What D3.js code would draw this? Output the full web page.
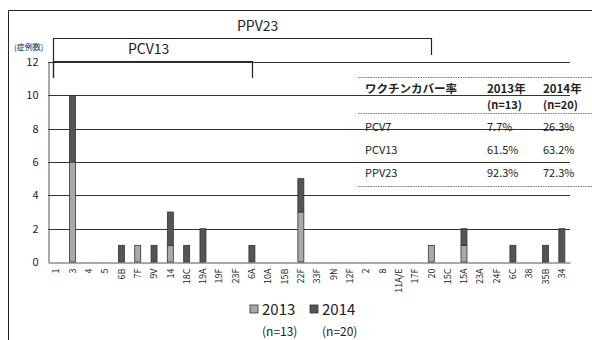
<!DOCTYPE html>
<html>
<head>
<meta charset="utf-8">
<script src="https://cdn.jsdelivr.net/npm/d3@7"></script>
<style>
  html, body { margin: 0; padding: 0; background: #fff; }
  svg { display: block; font-family: "Noto Sans CJK JP", "Noto Sans", sans-serif; }
</style>
</head>
<body>
<svg id="chart" width="592" height="340"></svg>
<script>
// Serotypes on the x axis
const serotypes = ["1","3","4","5","6B","7F","9V","14","18C","19A","19F","23F","6A","10A","15B",
  "22F","33F","9N","12F","2","8","11A/E","17F","20","15C","15A","23A","24F","6C","38","35B","34"];
// Case counts per serotype
const cases2013 = [0,6,0,0,0,1,0,1,0,0,0,0,0,0,0,3,0,0,0,0,0,0,0,1,0,1,0,0,0,0,0,0];
const cases2014 = [0,4,0,0,1,0,1,2,1,2,0,0,1,0,0,2,0,0,0,0,0,0,0,0,0,1,0,0,1,0,1,2];
const yTicks = [0, 2, 4, 6, 8, 10, 12];
const seriesNames = ["2013", "2014"];
const seriesN = ["(n=13)", "(n=20)"];

// Vaccine coverage table
const vaccines = ["PCV7", "PCV13", "PPV23"];
const coverage2013 = ["7.7%", "61.5%", "92.3%"];
const coverage2014 = ["26.3%", "63.2%", "72.3%"];

// Serotype ranges covered by each vaccine
const vaccineRanges = [
  { name: "PPV23", from: "1", to: "20" },
  { name: "PCV13", from: "1", to: "6A" }
];

const colors = { "2013": "#a9a9a9", "2014": "#555555" };
const ink = "#222";

const svg = d3.select("#chart");

// outer frame
svg.append("path").attr("d", "M8.5,340 V10.5 H592")
  .attr("fill", "none").attr("stroke", ink).attr("stroke-width", 1);

const plotLeft = 48, plotRight = 570, plotTop = 62, plotBottom = 262;
const x = d3.scaleBand().domain(serotypes).range([plotLeft, plotRight]);
const y = d3.scaleLinear().domain([0, 12]).range([plotBottom, plotTop]);

// horizontal grid
svg.append("g").selectAll("line").data(yTicks.filter(d => d > 0)).join("line")
  .attr("x1", plotLeft).attr("x2", plotRight)
  .attr("y1", d => Math.round(y(d)) + 0.5).attr("y2", d => Math.round(y(d)) + 0.5)
  .attr("stroke", "#333").attr("stroke-width", 1);

// y axis
const yAxis = svg.append("g").attr("transform", `translate(${plotLeft + 0.5},0)`)
  .call(d3.axisLeft(y).tickValues(yTicks).tickSize(0).tickPadding(10));
yAxis.select(".domain").attr("stroke", "#555");
yAxis.selectAll("text").attr("font-size", 11).attr("fill", ink)
  .attr("font-family", "'Noto Sans CJK JP', sans-serif");

// x axis
const xAxis = svg.append("g").attr("transform", `translate(0,${Math.round(y(0)) + 0.5})`)
  .call(d3.axisBottom(x).tickSize(0).tickPadding(6));
xAxis.select(".domain").attr("stroke", "#555");
xAxis.selectAll("text")
  .attr("font-size", 9).attr("fill", ink)
  .attr("font-family", "'Noto Sans CJK JP', sans-serif")
  .attr("text-anchor", "end")
  .attr("dy", "0.35em")
  .attr("transform", "rotate(-90)")
  .attr("x", -6).attr("y", 0);

// stacked bars: 2013 on the bottom, 2014 on top
const rows = serotypes.map((s, i) => ({ s, "2013": cases2013[i], "2014": cases2014[i] }));
const stack = d3.stack().keys(seriesNames)(rows);
const barW = 6;
svg.append("g").selectAll("g").data(stack).join("g")
  .attr("fill", d => colors[d.key])
  .selectAll("rect").data(d => d.filter(p => p[1] > p[0])).join("rect")
  .attr("x", d => x(d.data.s) + x.bandwidth() / 2 - barW / 2)
  .attr("width", barW)
  .attr("y", d => y(d[1]))
  .attr("height", d => y(d[0]) - y(d[1]))
  .attr("stroke", "#333").attr("stroke-width", 0.8);

// unit label
svg.append("text").attr("x", 14).attr("y", 50).attr("font-size", 8).attr("fill", ink)
  .text("(症例数)");

// vaccine brackets
const cx = s => x(s) + x.bandwidth() / 2;
const bracketY = { PPV23: 38.5, PCV13: 61.5 };
const bracketEnd = { PPV23: 55, PCV13: 78 };
const bracketLabelX = { PPV23: 237, PCV13: 128 };
const bracketLabelY = { PPV23: 31, PCV13: 54 };
vaccineRanges.forEach(r => {
  const x0 = Math.round(cx(r.from)) - 2.5, x1 = Math.round(cx(r.to)) + 0.5;
  svg.append("path")
    .attr("d", `M${x0},78 V${bracketY[r.name]} H${x1} V${bracketEnd[r.name]}`)
    .attr("fill", "none").attr("stroke", ink).attr("stroke-width", 1.2);
  svg.append("text").attr("x", bracketLabelX[r.name]).attr("y", bracketLabelY[r.name])
    .attr("font-size", 14).attr("fill", ink).text(r.name);
});

// coverage table
const tbl = svg.append("g").attr("fill", ink);
const colX = [365, 487, 543];
[77.5, 113.5, 186.5].forEach(yy => {
  tbl.append("line").attr("x1", 358).attr("x2", 592).attr("y1", yy).attr("y2", yy)
    .attr("stroke", "#555").attr("stroke-width", 0.8).attr("stroke-dasharray", "1.5,1");
});
tbl.append("text").attr("x", colX[0]).attr("y", 93).attr("font-size", 11.5)
  .attr("font-weight", "bold").text("ワクチンカバー率");
seriesNames.forEach((n, i) => {
  tbl.append("text").attr("x", colX[i + 1]).attr("y", 93).attr("font-size", 11.5)
    .attr("font-weight", "bold").text(n + "年");
  tbl.append("text").attr("x", colX[i + 1]).attr("y", 109).attr("font-size", 11)
    .attr("font-weight", "bold").text(seriesN[i]);
});
vaccines.forEach((v, i) => {
  const yy = 131 + i * 23;
  tbl.append("text").attr("x", colX[0]).attr("y", yy).attr("font-size", 11).text(v);
  tbl.append("text").attr("x", colX[1]).attr("y", yy).attr("font-size", 11).text(coverage2013[i]);
  tbl.append("text").attr("x", colX[2]).attr("y", yy).attr("font-size", 11).text(coverage2014[i]);
});

// legend
const legend = svg.append("g");
const legX = [250, 310];
seriesNames.forEach((n, i) => {
  legend.append("rect").attr("x", legX[i]).attr("y", 305).attr("width", 8).attr("height", 8)
    .attr("fill", colors[n]).attr("stroke", "#333").attr("stroke-width", 0.8);
  legend.append("text").attr("x", legX[i] + 12).attr("y", 315).attr("font-size", 15)
    .attr("fill", ink).text(n);
  legend.append("text").attr("x", legX[i] + 12).attr("y", 336).attr("font-size", 12)
    .attr("fill", ink).text(seriesN[i]);
});
</script>
</body>
</html>
